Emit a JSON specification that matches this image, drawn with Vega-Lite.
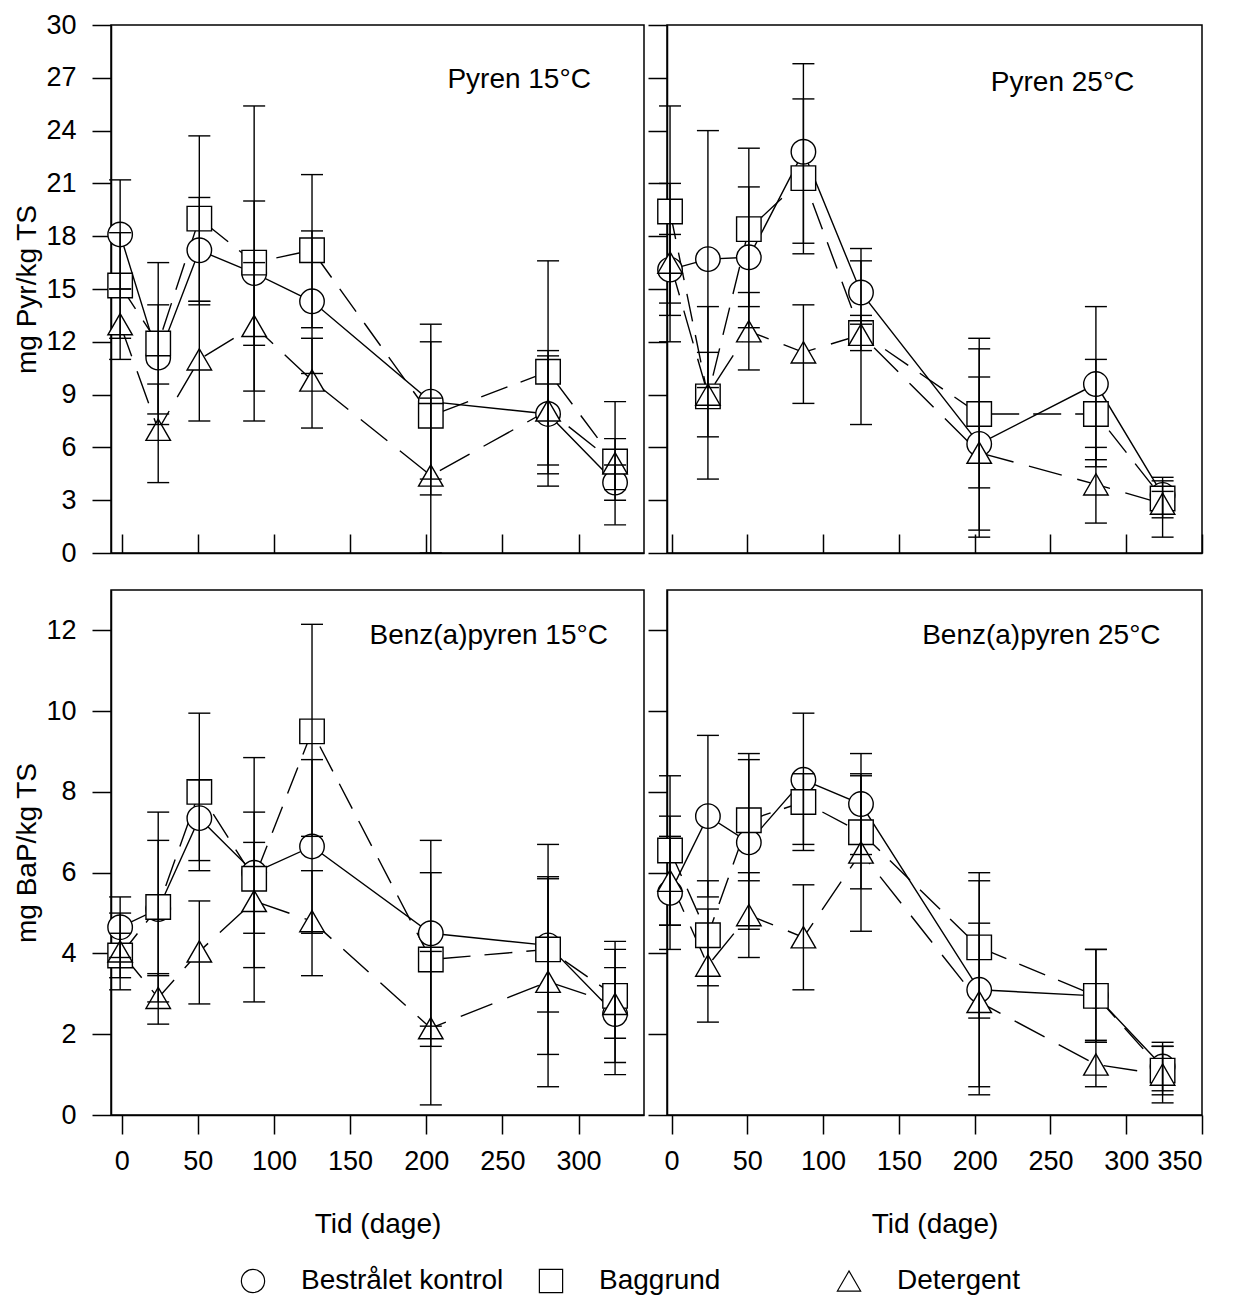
{
  "$schema": "https://vega.github.io/schema/vega-lite/v6.json",
  "background": "white",
  "padding": {"left": 13, "top": 10, "right": 10, "bottom": 5},
  "config": {
    "font": "Liberation Sans",
    "view": {"stroke": "black", "strokeWidth": 1.5},
    "axis": {"domainColor": "black", "domainWidth": 1.5, "tickColor": "black", "tickWidth": 1.5, "labelColor": "black", "titleColor": "black", "grid": false, "labelFontSize": 27, "titleFontSize": 28, "titleFontWeight": "normal", "labelFont": "Liberation Sans", "titleFont": "Liberation Sans"}
  },
  "data": {"values": [
    {"p":"P15","s":"Bestrålet kontrol","d":-1,"v":18.1,"lo":15.0,"hi":21.2},
    {"p":"P15","s":"Bestrålet kontrol","d":24,"v":11.1,"lo":7.9,"hi":14.1},
    {"p":"P15","s":"Bestrålet kontrol","d":51,"v":17.2,"lo":14.1,"hi":20.2},
    {"p":"P15","s":"Bestrålet kontrol","d":87,"v":15.9,"lo":11.8,"hi":20.0},
    {"p":"P15","s":"Bestrålet kontrol","d":125,"v":14.3,"lo":10.2,"hi":18.3},
    {"p":"P15","s":"Bestrålet kontrol","d":203,"v":8.6,"lo":4.2,"hi":13.0},
    {"p":"P15","s":"Bestrålet kontrol","d":280,"v":7.9,"lo":4.5,"hi":11.5},
    {"p":"P15","s":"Bestrålet kontrol","d":324,"v":4.0,"lo":3.0,"hi":5.0},
    {"p":"P15","s":"Baggrund","d":-1,"v":15.2,"lo":12.2,"hi":18.2},
    {"p":"P15","s":"Baggrund","d":24,"v":11.9,"lo":7.3,"hi":16.5},
    {"p":"P15","s":"Baggrund","d":51,"v":19.0,"lo":14.3,"hi":23.7},
    {"p":"P15","s":"Baggrund","d":87,"v":16.5,"lo":7.5,"hi":25.4},
    {"p":"P15","s":"Baggrund","d":125,"v":17.2,"lo":12.8,"hi":21.5},
    {"p":"P15","s":"Baggrund","d":203,"v":7.8,"lo":3.3,"hi":12.0},
    {"p":"P15","s":"Baggrund","d":280,"v":10.3,"lo":3.8,"hi":16.6},
    {"p":"P15","s":"Baggrund","d":324,"v":5.2,"lo":1.6,"hi":8.6},
    {"p":"P15","s":"Detergent","d":-1,"v":13.0,"lo":11.0,"hi":15.0},
    {"p":"P15","s":"Detergent","d":24,"v":7.0,"lo":4.0,"hi":9.6},
    {"p":"P15","s":"Detergent","d":51,"v":11.0,"lo":7.5,"hi":14.3},
    {"p":"P15","s":"Detergent","d":87,"v":12.9,"lo":9.2,"hi":16.5},
    {"p":"P15","s":"Detergent","d":125,"v":9.8,"lo":7.1,"hi":12.2},
    {"p":"P15","s":"Detergent","d":203,"v":4.4,"lo":0.0,"hi":8.8},
    {"p":"P15","s":"Detergent","d":280,"v":8.1,"lo":5.0,"hi":11.2},
    {"p":"P15","s":"Detergent","d":324,"v":5.1,"lo":3.6,"hi":6.5},
    {"p":"P25","s":"Bestrålet kontrol","d":-1,"v":16.1,"lo":14.2,"hi":18.1},
    {"p":"P25","s":"Bestrålet kontrol","d":24,"v":16.7,"lo":9.4,"hi":24.0},
    {"p":"P25","s":"Bestrålet kontrol","d":51,"v":16.8,"lo":12.8,"hi":20.8},
    {"p":"P25","s":"Bestrålet kontrol","d":87,"v":22.8,"lo":17.6,"hi":27.8},
    {"p":"P25","s":"Bestrålet kontrol","d":125,"v":14.8,"lo":13.0,"hi":16.6},
    {"p":"P25","s":"Bestrålet kontrol","d":203,"v":6.2,"lo":0.9,"hi":11.6},
    {"p":"P25","s":"Bestrålet kontrol","d":280,"v":9.6,"lo":5.3,"hi":14.0},
    {"p":"P25","s":"Bestrålet kontrol","d":324,"v":3.3,"lo":2.2,"hi":4.3},
    {"p":"P25","s":"Baggrund","d":-1,"v":19.4,"lo":13.5,"hi":25.4},
    {"p":"P25","s":"Baggrund","d":24,"v":8.9,"lo":6.6,"hi":11.4},
    {"p":"P25","s":"Baggrund","d":51,"v":18.4,"lo":14.0,"hi":23.0},
    {"p":"P25","s":"Baggrund","d":87,"v":21.3,"lo":17.0,"hi":25.8},
    {"p":"P25","s":"Baggrund","d":125,"v":12.5,"lo":11.5,"hi":13.5},
    {"p":"P25","s":"Baggrund","d":203,"v":7.9,"lo":3.7,"hi":12.2},
    {"p":"P25","s":"Baggrund","d":280,"v":7.9,"lo":4.9,"hi":11.0},
    {"p":"P25","s":"Baggrund","d":324,"v":3.1,"lo":2.0,"hi":4.1},
    {"p":"P25","s":"Detergent","d":-1,"v":16.5,"lo":12.0,"hi":21.0},
    {"p":"P25","s":"Detergent","d":24,"v":9.0,"lo":4.2,"hi":14.0},
    {"p":"P25","s":"Detergent","d":51,"v":12.6,"lo":10.4,"hi":14.8},
    {"p":"P25","s":"Detergent","d":87,"v":11.4,"lo":8.5,"hi":14.1},
    {"p":"P25","s":"Detergent","d":125,"v":12.4,"lo":7.3,"hi":17.3},
    {"p":"P25","s":"Detergent","d":203,"v":5.7,"lo":1.3,"hi":10.0},
    {"p":"P25","s":"Detergent","d":280,"v":3.9,"lo":1.7,"hi":6.0},
    {"p":"P25","s":"Detergent","d":324,"v":2.8,"lo":0.9,"hi":3.5},
    {"p":"B15","s":"Bestrålet kontrol","d":-1,"v":4.65,"lo":3.9,"hi":5.4},
    {"p":"B15","s":"Bestrålet kontrol","d":24,"v":5.1,"lo":3.45,"hi":6.8},
    {"p":"B15","s":"Bestrålet kontrol","d":51,"v":7.35,"lo":6.3,"hi":8.3},
    {"p":"B15","s":"Bestrålet kontrol","d":87,"v":6.0,"lo":4.5,"hi":7.5},
    {"p":"B15","s":"Bestrålet kontrol","d":125,"v":6.65,"lo":4.5,"hi":8.8},
    {"p":"B15","s":"Bestrålet kontrol","d":203,"v":4.5,"lo":2.2,"hi":6.8},
    {"p":"B15","s":"Bestrålet kontrol","d":280,"v":4.2,"lo":2.55,"hi":5.85},
    {"p":"B15","s":"Bestrålet kontrol","d":324,"v":2.5,"lo":1.3,"hi":3.65},
    {"p":"B15","s":"Baggrund","d":-1,"v":3.95,"lo":3.4,"hi":4.5},
    {"p":"B15","s":"Baggrund","d":24,"v":5.15,"lo":2.8,"hi":7.5},
    {"p":"B15","s":"Baggrund","d":51,"v":8.0,"lo":6.05,"hi":9.95},
    {"p":"B15","s":"Baggrund","d":87,"v":5.85,"lo":2.8,"hi":8.85},
    {"p":"B15","s":"Baggrund","d":125,"v":9.5,"lo":6.9,"hi":12.15},
    {"p":"B15","s":"Baggrund","d":203,"v":3.85,"lo":1.7,"hi":6.0},
    {"p":"B15","s":"Baggrund","d":280,"v":4.1,"lo":1.5,"hi":6.7},
    {"p":"B15","s":"Baggrund","d":324,"v":2.95,"lo":1.9,"hi":4.3},
    {"p":"B15","s":"Detergent","d":-1,"v":4.05,"lo":3.1,"hi":5.0},
    {"p":"B15","s":"Detergent","d":24,"v":2.9,"lo":2.25,"hi":3.5},
    {"p":"B15","s":"Detergent","d":51,"v":4.05,"lo":2.75,"hi":5.3},
    {"p":"B15","s":"Detergent","d":87,"v":5.3,"lo":3.65,"hi":6.75},
    {"p":"B15","s":"Detergent","d":125,"v":4.8,"lo":3.45,"hi":6.05},
    {"p":"B15","s":"Detergent","d":203,"v":2.15,"lo":0.25,"hi":4.05},
    {"p":"B15","s":"Detergent","d":280,"v":3.3,"lo":0.7,"hi":5.9},
    {"p":"B15","s":"Detergent","d":324,"v":2.75,"lo":1.0,"hi":4.1},
    {"p":"B25","s":"Bestrålet kontrol","d":-1,"v":5.5,"lo":4.1,"hi":7.4},
    {"p":"B25","s":"Bestrålet kontrol","d":24,"v":7.4,"lo":5.4,"hi":9.4},
    {"p":"B25","s":"Bestrålet kontrol","d":51,"v":6.75,"lo":4.6,"hi":8.95},
    {"p":"B25","s":"Bestrålet kontrol","d":87,"v":8.3,"lo":6.7,"hi":9.95},
    {"p":"B25","s":"Bestrålet kontrol","d":125,"v":7.7,"lo":6.45,"hi":8.95},
    {"p":"B25","s":"Bestrålet kontrol","d":203,"v":3.1,"lo":0.5,"hi":6.0},
    {"p":"B25","s":"Bestrålet kontrol","d":280,"v":2.95,"lo":1.8,"hi":4.1},
    {"p":"B25","s":"Bestrålet kontrol","d":324,"v":1.2,"lo":0.6,"hi":1.8},
    {"p":"B25","s":"Baggrund","d":-1,"v":6.55,"lo":4.7,"hi":8.4},
    {"p":"B25","s":"Baggrund","d":24,"v":4.45,"lo":3.2,"hi":5.8},
    {"p":"B25","s":"Baggrund","d":51,"v":7.3,"lo":5.8,"hi":8.8},
    {"p":"B25","s":"Baggrund","d":87,"v":7.75,"lo":6.55,"hi":8.45},
    {"p":"B25","s":"Baggrund","d":125,"v":7.0,"lo":5.6,"hi":8.4},
    {"p":"B25","s":"Baggrund","d":203,"v":4.15,"lo":2.4,"hi":5.8},
    {"p":"B25","s":"Baggrund","d":280,"v":2.95,"lo":1.8,"hi":4.1},
    {"p":"B25","s":"Baggrund","d":324,"v":1.1,"lo":0.5,"hi":1.7},
    {"p":"B25","s":"Detergent","d":-1,"v":5.8,"lo":4.7,"hi":6.9},
    {"p":"B25","s":"Detergent","d":24,"v":3.7,"lo":2.3,"hi":5.1},
    {"p":"B25","s":"Detergent","d":51,"v":4.95,"lo":3.9,"hi":6.0},
    {"p":"B25","s":"Detergent","d":87,"v":4.4,"lo":3.1,"hi":5.7},
    {"p":"B25","s":"Detergent","d":125,"v":6.5,"lo":4.55,"hi":8.45},
    {"p":"B25","s":"Detergent","d":203,"v":2.8,"lo":0.7,"hi":4.75},
    {"p":"B25","s":"Detergent","d":280,"v":1.25,"lo":0.7,"hi":1.85},
    {"p":"B25","s":"Detergent","d":324,"v":1.0,"lo":0.3,"hi":1.7}
  ]},
  "spacing": 1244,
  "bounds": "flush",
  "resolve": {"scale": {"x": "independent", "y": "independent", "shape": "shared"}},
  "vconcat": [
    {
      "columns": 2,
      "spacing": {"row": 37, "column": 23},
      "bounds": "flush",
      "resolve": {"scale": {"x": "independent", "y": "independent", "shape": "shared"}},
      "concat": [
        {
          "width": 533, "height": 528,
          "transform": [{"filter": "datum.p === 'P15'"}],
          "encoding": {
            "x": {"field": "d", "type": "quantitative", "scale": {"domain": [-7, 343], "nice": false, "zero": false}, "axis": {"values": [0, 50, 100, 150, 200, 250, 300], "labels": false, "title": null, "tickSize": -19}},
            "y": {"field": "v", "type": "quantitative", "scale": {"domain": [0, 30], "nice": false}, "axis": {"values": [0, 3, 6, 9, 12, 15, 18, 21, 24, 27, 30], "tickSize": 19, "labelPadding": 16, "title": "mg Pyr/kg TS", "titlePadding": 4}}
          },
          "layer": [
            {"transform": [{"filter": "datum.s === 'Bestrålet kontrol'"}], "mark": {"type": "line", "color": "black", "strokeWidth": 1.4}, "encoding": {}},
            {"transform": [{"filter": "datum.s === 'Baggrund'"}], "mark": {"type": "line", "color": "black", "strokeWidth": 1.4, "strokeDash": [28, 14]}, "encoding": {}},
            {"transform": [{"filter": "datum.s === 'Detergent'"}], "mark": {"type": "line", "color": "black", "strokeWidth": 1.4, "strokeDash": [34, 16]}, "encoding": {}},
            {"mark": {"type": "point", "filled": true, "fill": "white", "stroke": "black", "strokeWidth": 1.4, "size": 600, "opacity": 1}, "encoding": {"shape": {"field": "s", "type": "nominal", "scale": {"domain": ["Bestrålet kontrol", "Baggrund", "Detergent"], "range": ["circle", "square", "triangle-up"]}, "legend": null}}},
            {"mark": {"type": "rule", "color": "black", "strokeWidth": 1.4}, "encoding": {"y": {"field": "lo", "type": "quantitative"}, "y2": {"field": "hi"}}},
            {"mark": {"type": "tick", "orient": "horizontal", "size": 22, "thickness": 1.4, "color": "black", "opacity": 1}, "encoding": {"y": {"field": "lo", "type": "quantitative"}}},
            {"mark": {"type": "tick", "orient": "horizontal", "size": 22, "thickness": 1.4, "color": "black", "opacity": 1}, "encoding": {"y": {"field": "hi", "type": "quantitative"}}},
            {"data": {"values": [{"label": "Pyren 15°C", "d": 261, "v": 26.4}]}, "mark": {"type": "text", "fontSize": 28, "color": "black", "align": "center", "baseline": "alphabetic"}, "encoding": {"text": {"field": "label"}}}
          ]
        },
        {
          "width": 535, "height": 528,
          "transform": [{"filter": "datum.p === 'P25'"}],
          "encoding": {
            "x": {"field": "d", "type": "quantitative", "scale": {"domain": [-3, 350], "nice": false, "zero": false}, "axis": {"values": [0, 50, 100, 150, 200, 250, 300, 350], "labels": false, "title": null, "tickSize": -19}},
            "y": {"field": "v", "type": "quantitative", "scale": {"domain": [0, 30], "nice": false}, "axis": {"values": [0, 3, 6, 9, 12, 15, 18, 21, 24, 27, 30], "tickSize": 19, "labels": false, "title": null}}
          },
          "layer": [
            {"transform": [{"filter": "datum.s === 'Bestrålet kontrol'"}], "mark": {"type": "line", "color": "black", "strokeWidth": 1.4}, "encoding": {}},
            {"transform": [{"filter": "datum.s === 'Baggrund'"}], "mark": {"type": "line", "color": "black", "strokeWidth": 1.4, "strokeDash": [28, 14]}, "encoding": {}},
            {"transform": [{"filter": "datum.s === 'Detergent'"}], "mark": {"type": "line", "color": "black", "strokeWidth": 1.4, "strokeDash": [34, 16]}, "encoding": {}},
            {"mark": {"type": "point", "filled": true, "fill": "white", "stroke": "black", "strokeWidth": 1.4, "size": 600, "opacity": 1}, "encoding": {"shape": {"field": "s", "type": "nominal", "scale": {"domain": ["Bestrålet kontrol", "Baggrund", "Detergent"], "range": ["circle", "square", "triangle-up"]}, "legend": null}}},
            {"mark": {"type": "rule", "color": "black", "strokeWidth": 1.4}, "encoding": {"y": {"field": "lo", "type": "quantitative"}, "y2": {"field": "hi"}}},
            {"mark": {"type": "tick", "orient": "horizontal", "size": 22, "thickness": 1.4, "color": "black", "opacity": 1}, "encoding": {"y": {"field": "lo", "type": "quantitative"}}},
            {"mark": {"type": "tick", "orient": "horizontal", "size": 22, "thickness": 1.4, "color": "black", "opacity": 1}, "encoding": {"y": {"field": "hi", "type": "quantitative"}}},
            {"data": {"values": [{"label": "Pyren 25°C", "d": 258, "v": 26.25}]}, "mark": {"type": "text", "fontSize": 28, "color": "black", "align": "center", "baseline": "alphabetic"}, "encoding": {"text": {"field": "label"}}}
          ]
        },
        {
          "width": 533, "height": 525,
          "transform": [{"filter": "datum.p === 'B15'"}],
          "encoding": {
            "x": {"field": "d", "type": "quantitative", "scale": {"domain": [-7, 343], "nice": false, "zero": false}, "axis": {"values": [0, 50, 100, 150, 200, 250, 300], "tickSize": 19, "labelPadding": 14, "title": "Tid (dage)", "titlePadding": 36}},
            "y": {"field": "v", "type": "quantitative", "scale": {"domain": [0, 13], "nice": false}, "axis": {"values": [0, 2, 4, 6, 8, 10, 12], "tickSize": 19, "labelPadding": 16, "title": "mg BaP/kg TS", "titlePadding": 4}}
          },
          "layer": [
            {"transform": [{"filter": "datum.s === 'Bestrålet kontrol'"}], "mark": {"type": "line", "color": "black", "strokeWidth": 1.4}, "encoding": {}},
            {"transform": [{"filter": "datum.s === 'Baggrund'"}], "mark": {"type": "line", "color": "black", "strokeWidth": 1.4, "strokeDash": [28, 14]}, "encoding": {}},
            {"transform": [{"filter": "datum.s === 'Detergent'"}], "mark": {"type": "line", "color": "black", "strokeWidth": 1.4, "strokeDash": [34, 16]}, "encoding": {}},
            {"mark": {"type": "point", "filled": true, "fill": "white", "stroke": "black", "strokeWidth": 1.4, "size": 600, "opacity": 1}, "encoding": {"shape": {"field": "s", "type": "nominal", "scale": {"domain": ["Bestrålet kontrol", "Baggrund", "Detergent"], "range": ["circle", "square", "triangle-up"]}, "legend": null}}},
            {"mark": {"type": "rule", "color": "black", "strokeWidth": 1.4}, "encoding": {"y": {"field": "lo", "type": "quantitative"}, "y2": {"field": "hi"}}},
            {"mark": {"type": "tick", "orient": "horizontal", "size": 22, "thickness": 1.4, "color": "black", "opacity": 1}, "encoding": {"y": {"field": "lo", "type": "quantitative"}}},
            {"mark": {"type": "tick", "orient": "horizontal", "size": 22, "thickness": 1.4, "color": "black", "opacity": 1}, "encoding": {"y": {"field": "hi", "type": "quantitative"}}},
            {"data": {"values": [{"label": "Benz(a)pyren 15°C", "d": 241, "v": 11.66}]}, "mark": {"type": "text", "fontSize": 28, "color": "black", "align": "center", "baseline": "alphabetic"}, "encoding": {"text": {"field": "label"}}}
          ]
        },
        {
          "width": 535, "height": 525,
          "transform": [{"filter": "datum.p === 'B25'"}],
          "encoding": {
            "x": {"field": "d", "type": "quantitative", "scale": {"domain": [-3, 350], "nice": false, "zero": false}, "axis": {"values": [0, 50, 100, 150, 200, 250, 300, 350], "tickSize": 19, "labelPadding": 14, "title": "Tid (dage)", "titlePadding": 36}},
            "y": {"field": "v", "type": "quantitative", "scale": {"domain": [0, 13], "nice": false}, "axis": {"values": [0, 2, 4, 6, 8, 10, 12], "tickSize": 19, "labels": false, "title": null}}
          },
          "layer": [
            {"transform": [{"filter": "datum.s === 'Bestrålet kontrol'"}], "mark": {"type": "line", "color": "black", "strokeWidth": 1.4}, "encoding": {}},
            {"transform": [{"filter": "datum.s === 'Baggrund'"}], "mark": {"type": "line", "color": "black", "strokeWidth": 1.4, "strokeDash": [28, 14]}, "encoding": {}},
            {"transform": [{"filter": "datum.s === 'Detergent'"}], "mark": {"type": "line", "color": "black", "strokeWidth": 1.4, "strokeDash": [34, 16]}, "encoding": {}},
            {"mark": {"type": "point", "filled": true, "fill": "white", "stroke": "black", "strokeWidth": 1.4, "size": 600, "opacity": 1}, "encoding": {"shape": {"field": "s", "type": "nominal", "scale": {"domain": ["Bestrålet kontrol", "Baggrund", "Detergent"], "range": ["circle", "square", "triangle-up"]}, "legend": null}}},
            {"mark": {"type": "rule", "color": "black", "strokeWidth": 1.4}, "encoding": {"y": {"field": "lo", "type": "quantitative"}, "y2": {"field": "hi"}}},
            {"mark": {"type": "tick", "orient": "horizontal", "size": 22, "thickness": 1.4, "color": "black", "opacity": 1}, "encoding": {"y": {"field": "lo", "type": "quantitative"}}},
            {"mark": {"type": "tick", "orient": "horizontal", "size": 22, "thickness": 1.4, "color": "black", "opacity": 1}, "encoding": {"y": {"field": "hi", "type": "quantitative"}}},
            {"data": {"values": [{"label": "Benz(a)pyren 25°C", "d": 244, "v": 11.66}]}, "mark": {"type": "text", "fontSize": 28, "color": "black", "align": "center", "baseline": "alphabetic"}, "encoding": {"text": {"field": "label"}}}
          ]
        }
      ]
    },
    {
      "width": 880, "height": 24,
      "view": {"stroke": null},
      "data": {"values": [{"s": "Bestrålet kontrol"}, {"s": "Baggrund"}, {"s": "Detergent"}]},
      "encoding": {
        "x": {"field": "s", "type": "nominal", "sort": null, "scale": {"type": "point", "domain": ["Bestrålet kontrol", "Baggrund", "Detergent"], "padding": 0.4765}, "axis": null}
      },
      "layer": [
        {"mark": {"type": "point", "filled": true, "fill": "white", "stroke": "black", "strokeWidth": 1.2, "size": 540, "opacity": 1}, "encoding": {"shape": {"field": "s", "type": "nominal", "scale": {"domain": ["Bestrålet kontrol", "Baggrund", "Detergent"], "range": ["circle", "square", "triangle-up"]}, "legend": null}}},
        {"mark": {"type": "text", "align": "left", "baseline": "middle", "dx": 48, "fontSize": 28, "color": "black"}, "encoding": {"text": {"field": "s"}}}
      ]
    }
  ]
}
